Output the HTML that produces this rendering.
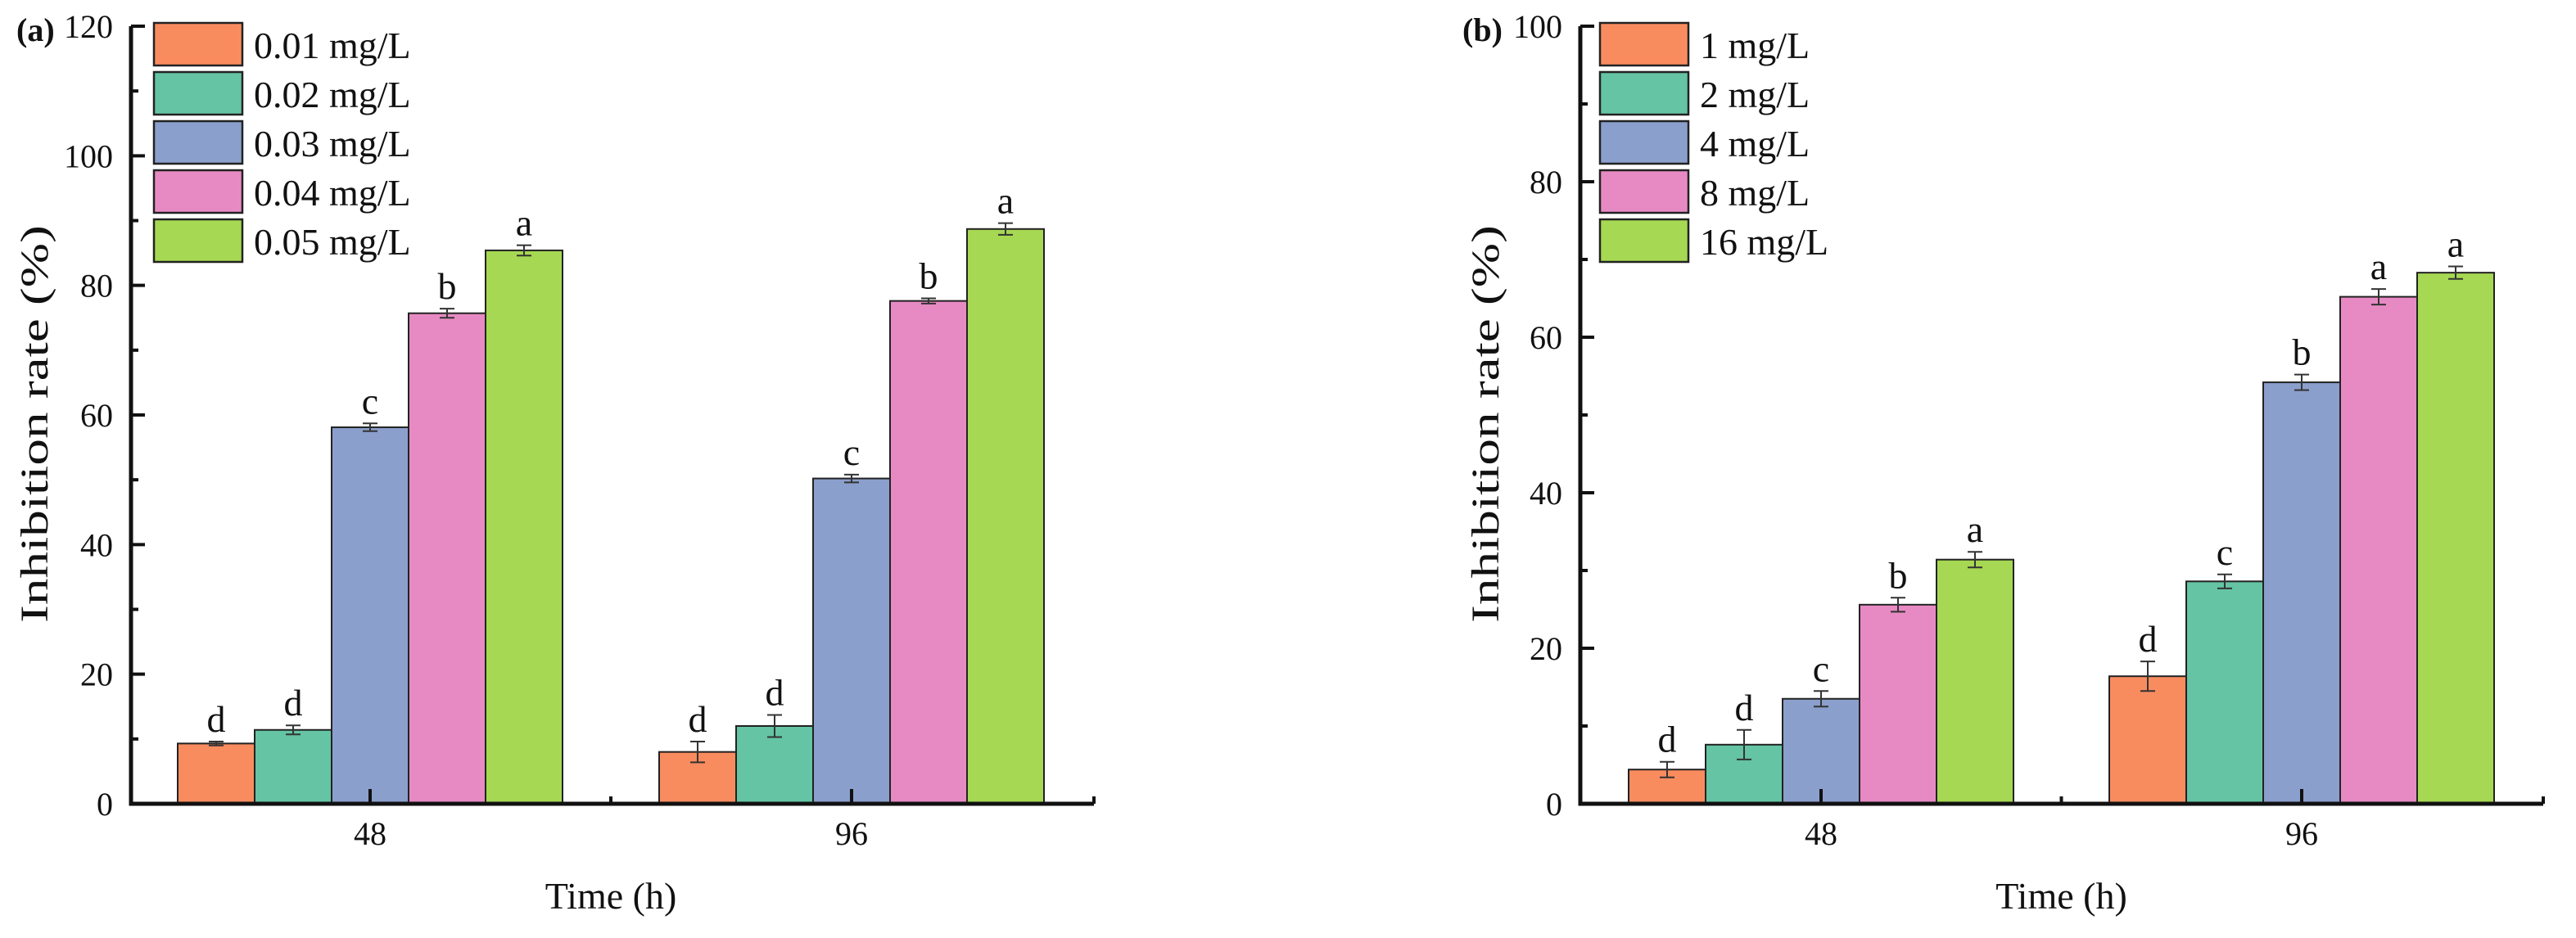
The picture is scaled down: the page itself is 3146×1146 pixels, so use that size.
<!DOCTYPE html>
<html><head><meta charset="utf-8">
<style>
html,body{margin:0;padding:0;background:#fff;}
svg{display:block;font-family:"Liberation Serif",serif;}
</style></head>
<body>
<svg id="chart" width="3146" height="1146" viewBox="0 0 3146 1146" xmlns="http://www.w3.org/2000/svg"></svg>
<script>
const colors = ['#F98C5F','#64C4A3','#8B9FCC','#E78AC3','#A6D853'];
const groupsX = ['48','96'];
const legendA = ['0.01 mg/L','0.02 mg/L','0.03 mg/L','0.04 mg/L','0.05 mg/L'];
const legendB = ['1 mg/L','2 mg/L','4 mg/L','8 mg/L','16 mg/L'];
const valuesA48 = [9.3, 11.4, 58.1, 75.7, 85.4];
const valuesA96 = [8.0, 12.0, 50.2, 77.6, 88.7];
const errorsA48 = [0.3, 0.7, 0.6, 0.7, 0.8];
const errorsA96 = [1.6, 1.7, 0.6, 0.4, 0.9];
const lettersA48 = ['d','d','c','b','a'];
const lettersA96 = ['d','d','c','b','a'];
const valuesB48 = [4.4, 7.6, 13.5, 25.6, 31.4];
const valuesB96 = [16.4, 28.6, 54.2, 65.2, 68.3];
const errorsB48 = [1.0, 1.9, 1.0, 0.9, 1.0];
const errorsB96 = [1.9, 0.9, 1.0, 1.0, 0.8];
const lettersB48 = ['d','d','c','b','a'];
const lettersB96 = ['d','c','b','a','a'];
const ticksA = [0,20,40,60,80,100,120];
const ticksB = [0,20,40,60,80,100];

const NS='http://www.w3.org/2000/svg';
const svg=document.getElementById('chart');
function mk(tag,attrs,parent){const e=document.createElementNS(NS,tag);for(const k in attrs)e.setAttribute(k,attrs[k]);(parent||svg).appendChild(e);return e;}

function panel(cfg){
  const g=mk('g',{});
  
  
  const x0=cfg.x0, x1=cfg.x1, y0=982, yTop=32, ymax=cfg.ymax;
  const yS=v=>y0-(v/ymax)*(y0-yTop);
  const bw=94;
  const centers=cfg.centers;
  const bx=(gi,si)=>centers[gi]-2.5*bw+si*bw;
  const vals=[cfg.v48,cfg.v96], errs=[cfg.e48,cfg.e96], lets=[cfg.l48,cfg.l96];
  for(let gi=0;gi<2;gi++){
    for(let si=0;si<5;si++){
      const v=vals[gi][si], e=errs[gi][si];
      const r=mk('rect',{x:bx(gi,si),y:yS(v),width:bw,height:y0-yS(v),fill:colors[si],stroke:'#222','stroke-width':2},g);
      
      
      const cx=bx(gi,si)+bw/2;
      const eb=mk('path',{d:`M${cx},${yS(v+e)}V${yS(v-e)}M${cx-9},${yS(v+e)}H${cx+9}M${cx-9},${yS(v-e)}H${cx+9}`,stroke:'#333','stroke-width':2,fill:'none'},g);
      
      
      const t=mk('text',{x:cx,y:yS(v+e)-12,'font-size':46,'text-anchor':'middle',fill:'#111'},g);
      t.textContent=lets[gi][si];
      
      
    }
  }
  const ax=mk('path',{d:`M${x0},${yTop}V${y0}H${x1}`,stroke:'#111','stroke-width':5,fill:'none'},g);
  
  
  const ticks=cfg.ticks;
  for(let i=0;i<ticks.length;i++){
    const y=yS(ticks[i]);
    mk('line',{x1:x0,x2:x0+17,y1:y,y2:y,stroke:'#111','stroke-width':4},g);
    if(i<ticks.length-1){const ym=yS((ticks[i]+ticks[i+1])/2);mk('line',{x1:x0,x2:x0+9,y1:ym,y2:ym,stroke:'#111','stroke-width':4},g);}
    const t=mk('text',{x:x0-22,y:y+14,'font-size':40,'text-anchor':'end',fill:'#111'},g);
    t.textContent=ticks[i];
    
    
  }
  for(let gi=0;gi<2;gi++){
    mk('line',{x1:centers[gi],x2:centers[gi],y1:y0,y2:y0-18,stroke:'#111','stroke-width':4},g);
    const t=mk('text',{x:centers[gi],y:1032,'font-size':40,'text-anchor':'middle',fill:'#111'},g);
    t.textContent=groupsX[gi];
    
    
  }
  const mid=(centers[0]+centers[1])/2;
  mk('line',{x1:mid,x2:mid,y1:y0,y2:y0-9,stroke:'#111','stroke-width':4},g);
  mk('line',{x1:x1,x2:x1,y1:y0,y2:y0-9,stroke:'#111','stroke-width':4},g);
  const xt=mk('text',{x:mid,y:1110,'font-size':46,'text-anchor':'middle',fill:'#111'},g);
  xt.textContent='Time (h)';
  
  
  const yt=mk('text',{x:0,y:0,'font-size':48,'text-anchor':'middle',fill:'#111',transform:`translate(${cfg.ytx},518) rotate(-90) scale(1.36,1)`},g);
  yt.textContent='Inhibition rate (%)';
  
  
  const pl=mk('text',{x:cfg.plx,y:50,'font-size':40,'font-weight':'bold',fill:'#111'},g);
  pl.textContent=cfg.label;
  
  
  for(let si=0;si<5;si++){
    const ly=28+si*60;
    const lg=mk('g',{},g);
    
    
    mk('rect',{x:cfg.lx,y:ly,width:108,height:52,fill:colors[si],stroke:'#222','stroke-width':2.5},lg);
    const t=mk('text',{x:cfg.lx+122,y:ly+43,'font-size':46,fill:'#111'},lg);
    t.textContent=cfg.legend[si];
  }
}
panel({name:'panel-a',x0:160,x1:1336,ymax:120,centers:[452,1040],v48:valuesA48,v96:valuesA96,e48:errorsA48,e96:errorsA96,l48:lettersA48,l96:lettersA96,ticks:ticksA,ytx:58,plx:20,label:'(a)',lx:188,legend:legendA});
panel({name:'panel-b',x0:1930,x1:3106,ymax:100,centers:[2224,2811],v48:valuesB48,v96:valuesB96,e48:errorsB48,e96:errorsB96,l48:lettersB48,l96:lettersB96,ticks:ticksB,ytx:1830,plx:1786,label:'(b)',lx:1954,legend:legendB});
</script>
</body></html>
